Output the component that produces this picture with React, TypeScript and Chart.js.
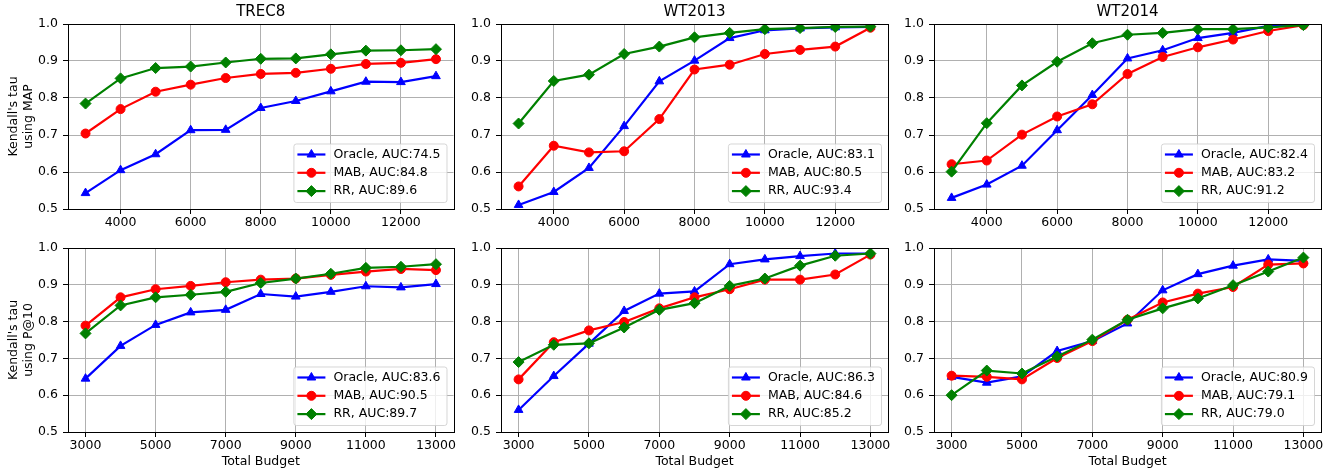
import React, { useEffect, useRef } from "react";
import { Chart, registerables } from "chart.js";

Chart.register(...registerables);

const FONT = '"DejaVu Sans", "Liberation Sans", sans-serif';

// ---------------- data ----------------
const BUDGETS = [3000, 4000, 5000, 6000, 7000, 8000, 9000, 10000, 11000, 12000, 13000];
const TOP_X_TICKS = [4000, 6000, 8000, 10000, 12000];
const BOTTOM_X_TICKS = [3000, 5000, 7000, 9000, 11000, 13000];
const Y_TICKS = [0.5, 0.6, 0.7, 0.8, 0.9, 1.0];
const COLLECTIONS = ["TREC8", "WT2013", "WT2014"];
const METRIC_TITLES = [
  ["Kendall's tau", "using MAP"],
  ["Kendall's tau", "using P@10"],
];
const X_TITLE = "Total Budget";
const METHODS = ["Oracle", "MAB", "RR"];

// MAP row
const TREC8_MAP_ORACLE = [0.543, 0.605, 0.648, 0.713, 0.714, 0.773, 0.792, 0.818, 0.844, 0.843, 0.859];
const TREC8_MAP_MAB = [0.704, 0.77, 0.817, 0.836, 0.854, 0.865, 0.868, 0.879, 0.892, 0.895, 0.905];
const TREC8_MAP_RR = [0.785, 0.853, 0.881, 0.885, 0.896, 0.906, 0.907, 0.918, 0.928, 0.929, 0.932];
const TREC8_MAP_AUC = [74.5, 84.8, 89.6];

const WT2013_MAP_ORACLE = [0.511, 0.546, 0.611, 0.724, 0.845, 0.901, 0.962, 0.983, 0.988, 0.991, 0.992];
const WT2013_MAP_MAB = [0.561, 0.671, 0.653, 0.656, 0.743, 0.877, 0.89, 0.919, 0.93, 0.939, 0.99];
const WT2013_MAP_RR = [0.731, 0.846, 0.863, 0.919, 0.939, 0.964, 0.976, 0.986, 0.989, 0.992, 0.993];
const WT2013_MAP_AUC = [83.1, 80.5, 93.4];

const WT2014_MAP_ORACLE = [0.53, 0.566, 0.617, 0.713, 0.808, 0.907, 0.929, 0.962, 0.976, 0.995, 1.0];
const WT2014_MAP_MAB = [0.621, 0.631, 0.701, 0.75, 0.783, 0.865, 0.911, 0.937, 0.958, 0.981, 0.997];
const WT2014_MAP_RR = [0.601, 0.732, 0.834, 0.898, 0.948, 0.971, 0.976, 0.986, 0.986, 0.991, 0.997];
const WT2014_MAP_AUC = [82.4, 83.2, 91.2];

// P@10 row
const TREC8_P10_ORACLE = [0.645, 0.734, 0.791, 0.825, 0.832, 0.875, 0.868, 0.881, 0.896, 0.893, 0.902];
const TREC8_P10_MAB = [0.789, 0.866, 0.888, 0.897, 0.907, 0.914, 0.917, 0.927, 0.936, 0.943, 0.94];
const TREC8_P10_RR = [0.768, 0.844, 0.866, 0.873, 0.881, 0.905, 0.917, 0.93, 0.946, 0.949, 0.956];
const TREC8_P10_AUC = [83.6, 90.5, 89.7];

const WT2013_P10_ORACLE = [0.56, 0.652, 0.74, 0.829, 0.876, 0.882, 0.956, 0.969, 0.978, 0.985, 0.985];
const WT2013_P10_MAB = [0.643, 0.744, 0.776, 0.799, 0.836, 0.866, 0.888, 0.914, 0.914, 0.928, 0.982];
const WT2013_P10_RR = [0.69, 0.737, 0.741, 0.784, 0.832, 0.85, 0.897, 0.917, 0.952, 0.979, 0.985];
const WT2013_P10_AUC = [86.3, 84.6, 85.2];

const WT2014_P10_ORACLE = [0.65, 0.634, 0.651, 0.72, 0.747, 0.795, 0.885, 0.929, 0.952, 0.969, 0.965];
const WT2014_P10_MAB = [0.653, 0.65, 0.643, 0.701, 0.747, 0.805, 0.852, 0.876, 0.894, 0.955, 0.958];
const WT2014_P10_RR = [0.6, 0.667, 0.659, 0.705, 0.751, 0.805, 0.836, 0.863, 0.899, 0.936, 0.974];
const WT2014_P10_AUC = [80.9, 79.1, 79.0];

const PANEL_SERIES = [
  [
    [TREC8_MAP_ORACLE, TREC8_MAP_MAB, TREC8_MAP_RR],
    [WT2013_MAP_ORACLE, WT2013_MAP_MAB, WT2013_MAP_RR],
    [WT2014_MAP_ORACLE, WT2014_MAP_MAB, WT2014_MAP_RR],
  ],
  [
    [TREC8_P10_ORACLE, TREC8_P10_MAB, TREC8_P10_RR],
    [WT2013_P10_ORACLE, WT2013_P10_MAB, WT2013_P10_RR],
    [WT2014_P10_ORACLE, WT2014_P10_MAB, WT2014_P10_RR],
  ],
];
const PANEL_AUC = [
  [TREC8_MAP_AUC, WT2013_MAP_AUC, WT2014_MAP_AUC],
  [TREC8_P10_AUC, WT2013_P10_AUC, WT2014_P10_AUC],
];

// ---------------- styles / layout ----------------
const SERIES_STYLE = [
  { color: "#0000ff", pointStyle: "triangle", radius: 5, order: 3 },
  { color: "#ff0000", pointStyle: "circle", radius: 4.5, order: 2 },
  { color: "#008000", pointStyle: "rectRot", radius: 5.5, order: 1 },
];
const LINE_WIDTH = 2.2;

const COL_LEFT = [0, 460, 900];
const COL_WIDTH = [460, 440, 440];
const COL_YAXIS_W = [68, 41, 34];
const COL_RIGHT_PAD = [5, 12, 19];
const ROW_TOP = [0, 230];
const ROW_HEIGHT = [230, 241];
const ROW_TOP_PAD = [0, 18];
const ROW_XAXIS_H = [21, 39];

const framePlugin = {
  id: "frameBox",
  afterDatasetsDraw(chart: any) {
    const { ctx, chartArea } = chart;
    const l = Math.round(chartArea.left) + 0.5;
    const t = Math.round(chartArea.top) + 0.5;
    const r = Math.round(chartArea.right) + 0.5;
    const b = Math.round(chartArea.bottom) + 0.5;
    ctx.save();
    ctx.strokeStyle = "#000";
    ctx.lineWidth = 1;
    ctx.strokeRect(l, t, r - l, b - t);
    ctx.restore();
  },
};

function marker(ctx: CanvasRenderingContext2D, style: string, x: number, y: number, r: number) {
  ctx.beginPath();
  if (style === "triangle") {
    for (let k = 0; k < 3; k++) {
      const a = (k * 2 * Math.PI) / 3;
      const px = x + Math.sin(a) * r;
      const py = y - Math.cos(a) * r;
      if (k === 0) ctx.moveTo(px, py);
      else ctx.lineTo(px, py);
    }
    ctx.closePath();
  } else if (style === "rectRot") {
    ctx.moveTo(x - r, y);
    ctx.lineTo(x, y - r);
    ctx.lineTo(x + r, y);
    ctx.lineTo(x, y + r);
    ctx.closePath();
  } else {
    ctx.arc(x, y, r, 0, Math.PI * 2);
    ctx.closePath();
  }
  ctx.fill();
  ctx.stroke();
}

function roundRectPath(ctx: CanvasRenderingContext2D, x: number, y: number, w: number, h: number, r: number) {
  ctx.beginPath();
  ctx.moveTo(x + r, y);
  ctx.lineTo(x + w - r, y);
  ctx.arcTo(x + w, y, x + w, y + r, r);
  ctx.lineTo(x + w, y + h - r);
  ctx.arcTo(x + w, y + h, x + w - r, y + h, r);
  ctx.lineTo(x + r, y + h);
  ctx.arcTo(x, y + h, x, y + h - r, r);
  ctx.lineTo(x, y + r);
  ctx.arcTo(x, y, x + r, y, r);
  ctx.closePath();
}

const innerLegendPlugin = {
  id: "innerLegend",
  afterDraw(chart: any) {
    const { ctx, chartArea } = chart;
    const ds = chart.data.datasets;
    ctx.save();
    ctx.font = `12.5px ${FONT}`;
    let textW = 0;
    ds.forEach((d: any) => {
      textW = Math.max(textW, ctx.measureText(d.label).width);
    });
    const w = textW + 46;
    const h = 58.5;
    const right = chartArea.right - 7;
    const bottom = chartArea.bottom - 7;
    const left = right - w;
    const top = bottom - h;
    ctx.globalAlpha = 0.8;
    roundRectPath(ctx, left + 0.5, top + 0.5, w, h, 2.5);
    ctx.fillStyle = "#ffffff";
    ctx.fill();
    ctx.strokeStyle = "#cccccc";
    ctx.lineWidth = 1;
    ctx.stroke();
    ctx.globalAlpha = 1;
    ds.forEach((d: any, i: number) => {
      const cy = top + 11 + i * 18.3;
      ctx.strokeStyle = d.borderColor;
      ctx.fillStyle = d.borderColor;
      ctx.lineWidth = LINE_WIDTH;
      ctx.lineCap = "butt";
      ctx.beginPath();
      ctx.moveTo(left + 4, cy);
      ctx.lineTo(left + 32, cy);
      ctx.stroke();
      ctx.lineWidth = 1;
      marker(ctx, d.pointStyle, left + 18, cy, d.pointRadius);
      ctx.fillStyle = "#000";
      ctx.textAlign = "left";
      ctx.textBaseline = "middle";
      ctx.fillText(d.label, left + 40, cy);
    });
    ctx.restore();
  },
};

function Panel({ row, col }: { row: number; col: number }) {
  const ref = useRef<HTMLCanvasElement>(null);
  const width = COL_WIDTH[col];
  const height = ROW_HEIGHT[row];

  useEffect(() => {
    const series = PANEL_SERIES[row][col];
    const auc = PANEL_AUC[row][col];
    const xTicks = row === 0 ? TOP_X_TICKS : BOTTOM_X_TICKS;
    const datasets = series.map((vals, i) => {
      const st = SERIES_STYLE[i];
      return {
        label: `${METHODS[i]}, AUC:${auc[i].toFixed(1)}`,
        data: BUDGETS.map((x, k) => ({ x, y: vals[k] })),
        borderColor: st.color,
        backgroundColor: st.color,
        borderWidth: LINE_WIDTH,
        pointStyle: st.pointStyle,
        pointRadius: st.radius,
        pointHoverRadius: st.radius,
        pointBackgroundColor: st.color,
        pointBorderColor: st.color,
        pointBorderWidth: 1,
        tension: 0,
        fill: false,
        order: st.order,
        clip: 0,
      };
    });
    const gridOpts = {
      color: "#b0b0b0",
      lineWidth: 1,
      tickColor: "#000",
      tickLength: 5,
      tickWidth: 1,
    };
    const tickFont = { family: FONT, size: 12.5 };
    const chart = new Chart(ref.current as HTMLCanvasElement, {
      type: "line",
      data: { datasets } as any,
      plugins: [framePlugin, innerLegendPlugin],
      options: {
        responsive: false,
        animation: false,
        devicePixelRatio: 1,
        events: [],
        layout: {
          padding: { left: 0, right: COL_RIGHT_PAD[col], top: ROW_TOP_PAD[row], bottom: 0 },
        },
        plugins: {
          legend: { display: false },
          tooltip: { enabled: false },
          title:
            row === 0
              ? {
                  display: true,
                  text: COLLECTIONS[col],
                  color: "#000",
                  font: { family: FONT, size: 15, weight: "normal" },
                  padding: { top: 3.5, bottom: 2.5 },
                  fullSize: false,
                }
              : { display: false },
        },
        scales: {
          x: {
            type: "linear",
            min: 2500,
            max: 13500,
            bounds: "data",
            afterBuildTicks: (s: any) => {
              s.ticks = xTicks.map((v) => ({ value: v }));
            },
            afterFit: (s: any) => {
              s.height = ROW_XAXIS_H[row];
            },
            grid: gridOpts,
            border: { display: false },
            ticks: {
              color: "#000",
              font: tickFont,
              padding: 1,
              maxRotation: 0,
              autoSkip: false,
              callback: (v: any) => String(v),
            },
            title:
              row === 1
                ? {
                    display: true,
                    text: X_TITLE,
                    color: "#000",
                    font: tickFont,
                    padding: { top: 0, bottom: 1.5 },
                  }
                : { display: false },
          },
          y: {
            type: "linear",
            min: 0.5,
            max: 1.0,
            bounds: "data",
            afterBuildTicks: (s: any) => {
              s.ticks = Y_TICKS.map((v) => ({ value: v }));
            },
            afterFit: (s: any) => {
              s.width = COL_YAXIS_W[col];
            },
            grid: gridOpts,
            border: { display: false },
            ticks: {
              color: "#000",
              font: tickFont,
              padding: 5,
              autoSkip: false,
              callback: (v: any) => Number(v).toFixed(1),
            },
            title:
              col === 0
                ? {
                    display: true,
                    text: METRIC_TITLES[row],
                    color: "#000",
                    font: { family: FONT, size: 12.5, lineHeight: 1.2 },
                    padding: { top: 6, bottom: 0 },
                  }
                : { display: false },
          },
        },
      } as any,
    });
    return () => chart.destroy();
  }, [row, col]);

  return (
    <canvas
      ref={ref}
      width={width}
      height={height}
      style={{
        position: "absolute",
        left: COL_LEFT[col],
        top: ROW_TOP[row],
        width,
        height,
        display: "block",
      }}
    />
  );
}

export default function App() {
  const cells: { row: number; col: number }[] = [];
  for (let r = 0; r < 2; r++) for (let c = 0; c < 3; c++) cells.push({ row: r, col: c });
  return (
    <div
      style={{
        position: "absolute",
        left: 0,
        top: 0,
        width: 1340,
        height: 471,
        overflow: "hidden",
        background: "#ffffff",
      }}
    >
      {cells.map((c) => (
        <Panel key={`${c.row}-${c.col}`} row={c.row} col={c.col} />
      ))}
    </div>
  );
}
